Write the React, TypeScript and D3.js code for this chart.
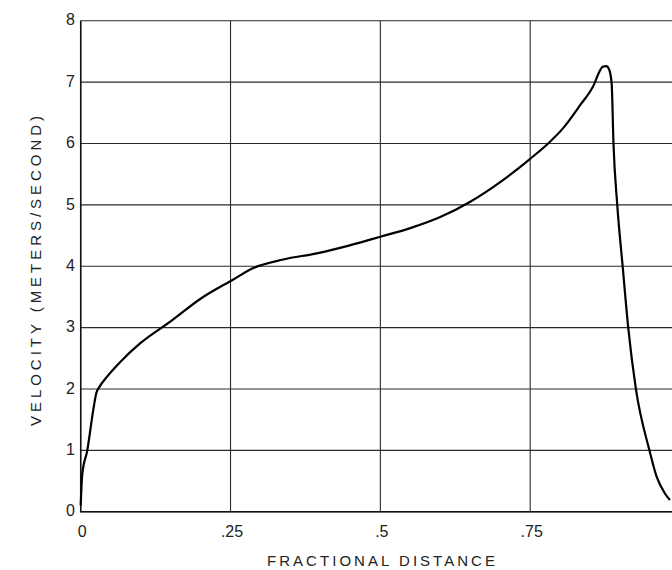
import { useRef, useEffect } from "react";
import * as d3 from "d3";

// fractional distance along the run
const distance = [
  0, 0.0025, 0.011, 0.021, 0.026, 0.031, 0.044, 0.066, 0.1, 0.15, 0.2, 0.254,
  0.288, 0.338, 0.394, 0.449, 0.5, 0.55, 0.6, 0.65, 0.7, 0.75, 0.78, 0.805,
  0.833, 0.857, 0.865, 0.871, 0.877, 0.882, 0.886, 0.889, 0.8953, 0.9043,
  0.9136, 0.9264, 0.949, 0.961, 0.9746, 0.9832,
];
// velocity in m/s at each distance
const velocity = [
  0.1, 0.6, 1.0, 1.66, 1.93, 2.03, 2.2, 2.44, 2.75, 3.1, 3.47, 3.78, 3.97,
  4.11, 4.21, 4.34, 4.48, 4.62, 4.8, 5.05, 5.37, 5.75, 6.0, 6.25, 6.62, 6.97,
  7.16, 7.25, 7.26, 7.2, 6.97, 6.0, 5.0, 4.0, 3.0, 2.0, 1.0, 0.57, 0.3, 0.19,
];

const xTicks = [0, 0.25, 0.5, 0.75, 1];
const xTickLabels = ["0", ".25", ".5", ".75", "1"];
const yTicks = [0, 1, 2, 3, 4, 5, 6, 7, 8];

const xTitle = "FRACTIONAL DISTANCE";
const yTitle = "VELOCITY (METERS/SECOND)";

export default function App() {
  const svgRef = useRef<SVGSVGElement>(null);

  const width = 672;
  const height = 570;
  const margin = { top: 20.7, left: 80.7, bottom: 511.7, right: 680 };

  useEffect(() => {
    if (!svgRef.current) return;
    const svg = d3.select(svgRef.current);
    svg.selectAll("*").remove();

    const x = d3.scaleLinear().domain([0, 1]).range([margin.left, margin.right]);
    const y = d3.scaleLinear().domain([0, 8]).range([margin.bottom, margin.top]);

    svg.append("rect").attr("width", width).attr("height", height).attr("fill", "#fff");

    const font = "'Liberation Sans', Arial, sans-serif";

    // grid
    const grid = svg.append("g").attr("stroke", "#2a2a2a").attr("stroke-width", 1.1);
    yTicks.forEach((t) => {
      grid
        .append("line")
        .attr("x1", x(0))
        .attr("x2", x(1))
        .attr("y1", y(t))
        .attr("y2", y(t));
    });
    xTicks.forEach((t) => {
      grid
        .append("line")
        .attr("x1", x(t))
        .attr("x2", x(t))
        .attr("y1", y(0))
        .attr("y2", y(8));
    });

    // frame (left + bottom heavier)
    svg
      .append("path")
      .attr("d", `M${x(0)},${y(8)}V${y(0)}H${x(1)}`)
      .attr("fill", "none")
      .attr("stroke", "#111")
      .attr("stroke-width", 1.5);

    // tick labels
    svg
      .append("g")
      .selectAll("text")
      .data(yTicks)
      .join("text")
      .attr("x", 75)
      .attr("y", (d) => y(d) - 1)
      .attr("dy", "0.36em")
      .attr("text-anchor", "end")
      .attr("font-family", font)
      .attr("font-size", 16)
      .attr("fill", "#222")
      .text((d) => String(d));

    svg
      .append("g")
      .selectAll("text")
      .data(xTicks)
      .join("text")
      .attr("x", (d) => x(d) + 1.5)
      .attr("y", 537)
      .attr("text-anchor", "middle")
      .attr("font-family", font)
      .attr("font-size", 16)
      .attr("fill", "#222")
      .text((d, i) => xTickLabels[i]);

    // axis titles
    svg
      .append("text")
      .attr("x", 381)
      .attr("y", 566)
      .attr("text-anchor", "middle")
      .attr("font-family", font)
      .attr("font-size", 15)
      .attr("fill", "#222")
      .attr("textLength", 228)
      .attr("lengthAdjust", "spacing")
      .text(xTitle);

    svg
      .append("text")
      .attr("transform", "translate(40.5,271) rotate(-90)")
      .attr("text-anchor", "middle")
      .attr("font-family", font)
      .attr("font-size", 15)
      .attr("fill", "#222")
      .attr("textLength", 310)
      .attr("lengthAdjust", "spacing")
      .text(yTitle);

    // velocity curve
    const pts = distance.map((d, i) => [d, velocity[i]] as [number, number]);
    const line = d3
      .line<[number, number]>()
      .x((d) => x(d[0]))
      .y((d) => y(d[1]))
      .curve(d3.curveMonotoneX);

    svg
      .append("path")
      .datum(pts)
      .attr("d", line)
      .attr("fill", "none")
      .attr("stroke", "#000")
      .attr("stroke-width", 2.2)
      .attr("stroke-linejoin", "round");
  }, []);

  return (
    <svg
      ref={svgRef}
      width={width}
      height={height}
      style={{ position: "absolute", left: 0, top: 0, display: "block" }}
    />
  );
}
